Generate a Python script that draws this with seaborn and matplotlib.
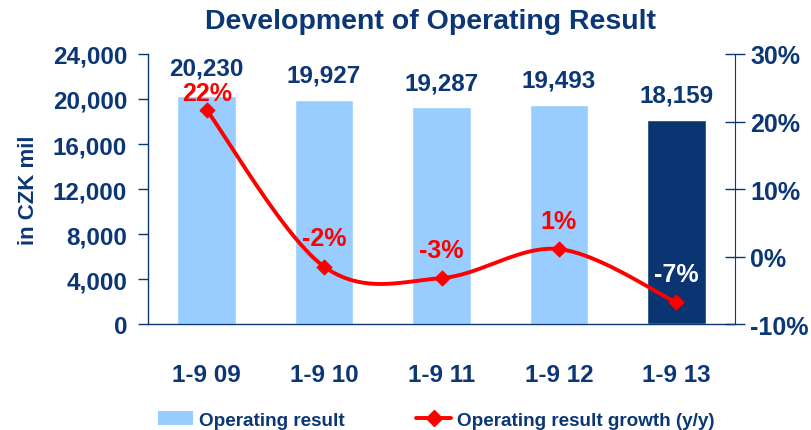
import matplotlib.pyplot as plt
import matplotlib.ticker as mticker
from matplotlib.lines import Line2D
from matplotlib.patches import Patch
import numpy as np
import seaborn as sns

sns.set_style('white')
plt.rcParams['font.family'] = ['Liberation Sans', 'DejaVu Sans']
plt.rcParams['font.weight'] = 'bold'

periods = ['1-9 09', '1-9 10', '1-9 11', '1-9 12', '1-9 13']
op_result = [20230, 19927, 19287, 19493, 18159]
growth = [21.7, -1.5, -3.2, 1.1, -6.8]
growth_labels = ['22%', '-2%', '-3%', '1%', '-7%']

navy = '#0B3776'
light = '#99CCFF'
red = '#FF0000'
bar_colors = [light, light, light, light, '#0A3472']


def smooth(xs, ys, n=40):
    # bezier smoothing like the office "smoothed line" option
    xs = np.asarray(xs, float)
    ys = np.asarray(ys, float)
    px, py = [], []
    for i in range(len(xs) - 1):
        i0 = max(i - 1, 0)
        i3 = min(i + 2, len(xs) - 1)
        c1x = xs[i] + (xs[i + 1] - xs[i0]) / 6
        c1y = ys[i] + (ys[i + 1] - ys[i0]) / 6
        c2x = xs[i + 1] - (xs[i3] - xs[i]) / 6
        c2y = ys[i + 1] - (ys[i3] - ys[i]) / 6
        t = np.linspace(0, 1, n)
        px.extend((1 - t) ** 3 * xs[i] + 3 * (1 - t) ** 2 * t * c1x + 3 * (1 - t) * t ** 2 * c2x + t ** 3 * xs[i + 1])
        py.extend((1 - t) ** 3 * ys[i] + 3 * (1 - t) ** 2 * t * c1y + 3 * (1 - t) * t ** 2 * c2y + t ** 3 * ys[i + 1])
    return px, py


fig = plt.figure(figsize=(8.11, 4.31), dpi=100)
ax = fig.add_axes([0.1825, 0.2459, 0.7238, 0.6265])

sns.barplot(x=periods, y=op_result, hue=periods, palette=bar_colors, legend=False,
            width=0.5, saturation=1, ax=ax)
ax.set_xlim(-0.5, 4.5)
ax.set_ylim(0, 24000)
ax.set_yticks(np.arange(0, 24001, 4000))
ax.yaxis.set_major_formatter(mticker.FuncFormatter(lambda v, p: '{:,.0f}'.format(v)))
ax.set_xticks(np.arange(-0.5, 4.6, 1), minor=True)
ax.set_xlabel('')
ax.set_ylabel('in CZK mil', fontsize=16, color=navy, fontweight='bold', labelpad=10)
ax.tick_params(axis='y', direction='out', length=7, width=1, color=navy,
               labelsize=17.5, labelcolor=navy, pad=8)
ax.tick_params(axis='x', which='major', length=0, labelsize=17.5, labelcolor=navy, pad=28)
ax.tick_params(axis='x', which='minor', direction='out', length=5, width=1, color=navy)
for s in ['top', 'right']:
    ax.spines[s].set_visible(False)
for s in ['left', 'bottom']:
    ax.spines[s].set_color(navy)
    ax.spines[s].set_linewidth(1)

for i, v in enumerate(op_result):
    off = 1500 if i == 0 else 1150
    ax.text(i, v + off, '{:,}'.format(v), ha='center', va='bottom', fontsize=17.5,
            color=navy, fontweight='bold')

ax2 = ax.twinx()
ax2.set_ylim(-10, 30)
ax2.set_yticks([-10, 0, 10, 20, 30])
ax2.yaxis.set_major_formatter(mticker.FuncFormatter(lambda v, p: '{:.0f}%'.format(v)))
ax2.tick_params(axis='y', direction='inout', length=14, width=1, color=navy,
                labelsize=18, labelcolor=navy, pad=4)
for s in ['top', 'left', 'bottom']:
    ax2.spines[s].set_visible(False)
ax2.spines['right'].set_color(navy)

xs = np.arange(len(periods))
sx, sy = smooth(xs, growth)
ax2.plot(sx, sy, color=red, lw=2.8)
sns.scatterplot(x=xs, y=growth, marker='D', color=red, s=60, edgecolor=red, ax=ax2, zorder=5)

for i, (g, lab) in enumerate(zip(growth, growth_labels)):
    c = 'white' if i == 4 else red
    off = 0.8 if i == 0 else 2.4
    ax2.text(i, g + off, lab, ha='center', va='bottom', fontsize=18, color=c, fontweight='bold')

fig.text(0.531, 0.949, 'Development of Operating Result', ha='center', va='center',
         fontsize=20.5, color=navy, fontweight='bold')

handles = [Patch(facecolor=light, edgecolor='none'),
           Line2D([0], [0], color=red, lw=2.8, marker='D', markersize=8)]
fig.legend(handles, ['Operating result', 'Operating result growth (y/y)'],
           loc='center left', bbox_to_anchor=(0.174, 0.023), ncol=2, frameon=False,
           labelcolor=navy, columnspacing=3.8, handlelength=1.85,
           handletextpad=0.3, prop={'weight': 'bold', 'size': 13.6})

fig.savefig('out.png', dpi=100)
